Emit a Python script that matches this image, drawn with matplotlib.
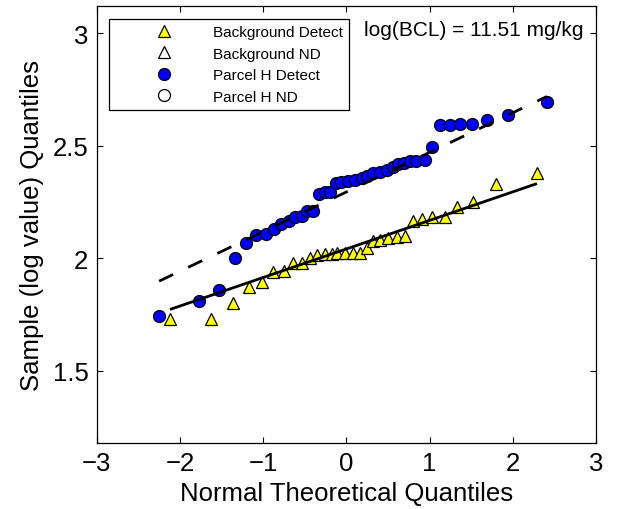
import matplotlib
matplotlib.use("Agg")
import matplotlib.pyplot as plt
import numpy as np

plt.rcParams['font.family'] = ['Liberation Sans', 'DejaVu Sans']

# Background (detects) - theoretical quantiles and sample (log) quantiles
bg_x = [-2.12, -1.63, -1.36, -1.17, -1.01, -0.88, -0.75, -0.64, -0.53, -0.44,
        -0.35, -0.26, -0.17, -0.11, -0.02, 0.08, 0.16, 0.25, 0.32, 0.41,
        0.50, 0.61, 0.71, 0.80, 0.91, 1.03, 1.18, 1.33, 1.52, 1.80, 2.29]
bg_y = [1.729, 1.733, 1.803, 1.874, 1.896, 1.941, 1.943, 1.978, 1.978, 2.003,
        2.015, 2.018, 2.019, 2.022, 2.022, 2.022, 2.025, 2.048, 2.079, 2.081,
        2.089, 2.097, 2.099, 2.166, 2.175, 2.186, 2.186, 2.230, 2.252, 2.329, 2.378]

# Parcel H (detects)
ph_x = [-2.25, -1.77, -1.53, -1.34, -1.20, -1.08, -0.97, -0.87, -0.78, -0.69,
        -0.62, -0.53, -0.47, -0.40, -0.33, -0.26, -0.20, -0.12, -0.06, 0.02,
        0.10, 0.19, 0.25, 0.32, 0.41, 0.49, 0.56, 0.62, 0.69, 0.77,
        0.84, 0.95, 1.03, 1.13, 1.24, 1.37, 1.51, 1.69, 1.94, 2.41]
ph_y = [1.745, 1.812, 1.859, 2.004, 2.069, 2.104, 2.107, 2.130, 2.151, 2.166,
        2.186, 2.190, 2.211, 2.211, 2.285, 2.297, 2.297, 2.334, 2.341, 2.344,
        2.348, 2.356, 2.368, 2.378, 2.386, 2.393, 2.408, 2.418, 2.423, 2.433,
        2.433, 2.437, 2.497, 2.591, 2.591, 2.596, 2.596, 2.613, 2.635, 2.697]

# Reference (fit) lines: slope, intercept
bg_fit = (0.1268, 2.042)
ph_fit = (0.176, 2.295)

legend_labels = ['Background Detect', 'Background ND', 'Parcel H Detect', 'Parcel H ND']
annotation = 'log(BCL) = 11.51 mg/kg'
x_ticks = [-3, -2, -1, 0, 1, 2, 3]
y_ticks = [1.5, 2, 2.5, 3]

fig = plt.figure(figsize=(6.28, 5.10), dpi=100)
ax = fig.add_axes([0.154, 0.1294, 0.795, 0.8563])

ax.plot(bg_x, bg_y, linestyle='none', marker='^', ms=9, mfc=(1, 1, 0), mec='k',
        mew=0.9, label=legend_labels[0], zorder=3)
ax.plot([], [], linestyle='none', marker='^', ms=9, mfc='w', mec='k',
        mew=0.9, label=legend_labels[1])
ax.plot(ph_x, ph_y, linestyle='none', marker='o', ms=8.6, mfc=(0, 0, 1), mec='k',
        mew=0.9, label=legend_labels[2], zorder=3)
ax.plot([], [], linestyle='none', marker='o', ms=8.6, mfc='w', mec='k',
        mew=0.9, label=legend_labels[3])

bx = np.array([min(bg_x), max(bg_x)])
ax.plot(bx, bg_fit[0] * bx + bg_fit[1], color='k', lw=2, solid_capstyle='butt', zorder=4)
px = np.array([min(ph_x), max(ph_x)])
ax.plot(px, ph_fit[0] * px + ph_fit[1], color='k', lw=2, linestyle=(0, (5.6, 6.0)),
        dash_capstyle='butt', zorder=4)

ax.set_xlim(-3, 3)
ax.set_ylim(1.18, 3.12)
ax.set_xticks(x_ticks)
ax.set_yticks(y_ticks)
ax.set_yticklabels(['1.5', '2', '2.5', '3'])
ax.tick_params(direction='in', length=4, width=0.8, top=True, right=True,
               labelsize=18.5, pad=6)
for s in ax.spines.values():
    s.set_linewidth(0.9)

ax.set_xlabel('Normal Theoretical Quantiles', fontsize=18.5, labelpad=4)
ax.set_ylabel('Sample (log value) Quantiles', fontsize=18.5, labelpad=6)

ax.text(0.976, 0.946, annotation, transform=ax.transAxes, ha='right', va='center',
        fontsize=15)

leg = ax.legend(loc='upper left', bbox_to_anchor=(0.024, 0.971), borderaxespad=0,
                fontsize=11, numpoints=1, handlelength=6.5, handletextpad=-0.1,
                borderpad=0.4, labelspacing=0.49, fancybox=False, framealpha=1,
                edgecolor='k')
leg.get_frame().set_linewidth(0.9)

fig.savefig('out.png', dpi=100)
